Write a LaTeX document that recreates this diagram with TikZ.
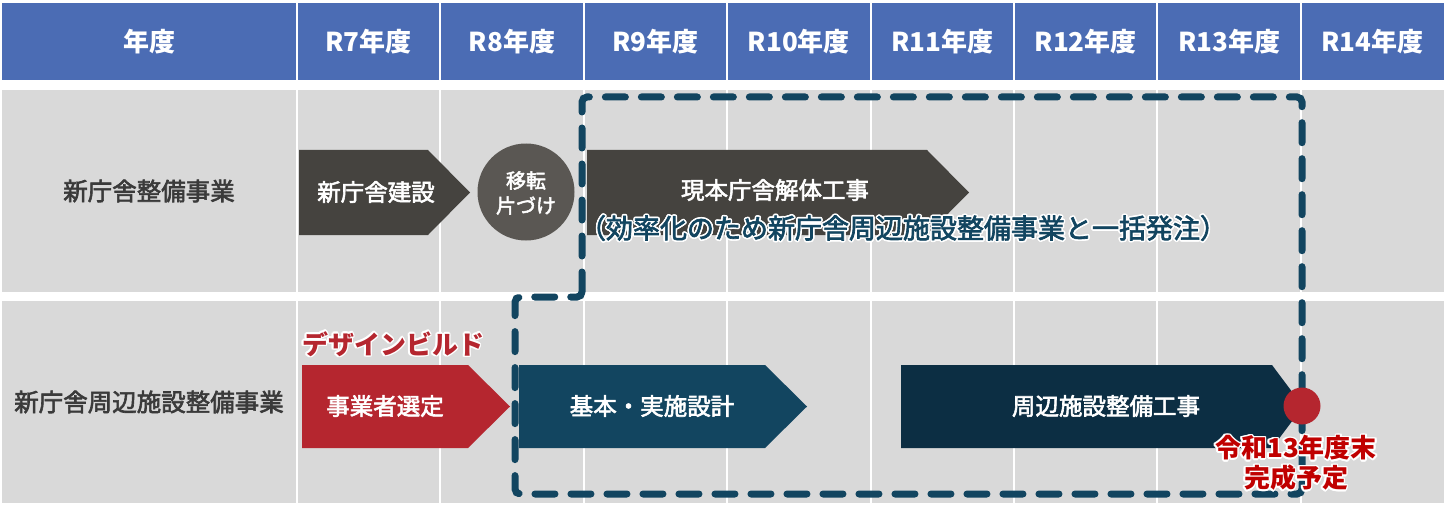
\documentclass[tikz,border=0pt]{standalone}
\usepackage{fontspec}
\setmainfont{Noto Sans CJK JP}
\newfontfamily\jpmed{Noto Sans CJK JP}[FakeBold=2.5]
\usetikzlibrary{positioning}

\definecolor{hdblue}{HTML}{4B6CB4}
\definecolor{cellgray}{HTML}{D9D9D9}
\definecolor{darkarrow}{HTML}{45433F}
\definecolor{graycirc}{HTML}{5A5753}
\definecolor{redarrow}{HTML}{B5262F}
\definecolor{bluearrow}{HTML}{124560}
\definecolor{navyarrow}{HTML}{0C2E43}
\definecolor{redtext}{HTML}{C00000}
\definecolor{labeltext}{HTML}{3A3A3A}

\newcommand\halonode[5]{% name, position, colour, font, text
  \foreach \a in {0,30,...,330}
    \node[halotxt,text=white,font=#4,shift={(\a:1.6)}] at #2 {#5};
  \node[halotxt,text=#3,font=#4] (#1) at #2 {#5};}

\begin{document}
\begin{tikzpicture}[x=1pt,y=-1pt,inner sep=0pt,
  hd/.style={text=white,font=\fontsize{26}{30}\selectfont\bfseries},
  rowlabel/.style={text=labeltext,font=\jpmed\fontsize{24.5}{28}\selectfont},
  inarrow/.style={text=white,font=\jpmed\fontsize{23.5}{28}\selectfont},
  halotxt/.style={align=center},
  dashbox/.style={draw=bluearrow,line width=7,line cap=round,dash pattern=on 20 off 16,rounded corners=5}]
\useasboundingbox (0,0) rectangle (1451,516);
\fill[white] (0,0) rectangle (1451,516);
\fill[hdblue] (2,3) rectangle (1444,80);
\fill[cellgray] (2,90) rectangle (1444,292);
\fill[cellgray] (2,301) rectangle (1444,503);
\foreach \k in {0,...,7} \draw[white,line width=2] (297+143.4*\k,3) -- (297+143.4*\k,503);
\node[hd] (hyear) at (149,42) {年度};
\foreach \i [count=\k from 0] in {7,...,14} \node[hd] (h\i) at (368.7+143.4*\k,42) {R{\i}年度};
\node[rowlabel] (rowA) at (149,191) {新庁舎整備事業};
\node[rowlabel] (rowB) at (149,402) {新庁舎周辺施設整備事業};
\fill[darkarrow] (299,150) -- (428,150) -- (470,192.5) -- (428,235) -- (299,235) -- cycle;
\node[inarrow] (build) at (376,192) {新庁舎建設};
\fill[graycirc] (526,192) circle (48.5);
\node[inarrow,align=center,font=\jpmed\fontsize{20}{25}\selectfont] (move) at (526,193) {移転\\片づけ};
\fill[darkarrow] (587,150) -- (927,150) -- (969,192.5) -- (927,235) -- (587,235) -- cycle;
\node[inarrow] (demo) at (775,190) {現本庁舎解体工事};
\fill[redarrow] (302,365) -- (468,365) -- (510,406.5) -- (468,448) -- (302,448) -- cycle;
\node[inarrow] (select) at (385,406) {事業者選定};
\fill[bluearrow] (519,365) -- (765,365) -- (807,406.5) -- (765,448) -- (519,448) -- cycle;
\node[inarrow] (design) at (652,406) {基本・実施設計};
\fill[navyarrow] (901,365) -- (1272,365) -- (1303,406.5) -- (1272,448) -- (901,448) -- cycle;
\node[inarrow] (works) at (1106,406) {周辺施設整備工事};
\draw[dashbox] (582,297) -- (582,97) -- (1302,97) -- (1302,494) -- (515,494) -- (515,297) -- cycle;
\halonode{note}{(903,228)}{bluearrow}{\jpmed\fontsize{27}{30}\selectfont}{（効率化のため新庁舎周辺施設整備事業と一括発注）}
\halonode{db}{(393,344)}{redarrow}{\bfseries\fontsize{26}{30}\selectfont}{デザインビルド}
\fill[redarrow] (1302,406) circle (18.5);
\halonode{done}{(1296,463)}{redtext}{\bfseries\fontsize{26}{30}\selectfont}{令和13年度末\\完成予定}
\end{tikzpicture}
\end{document}
